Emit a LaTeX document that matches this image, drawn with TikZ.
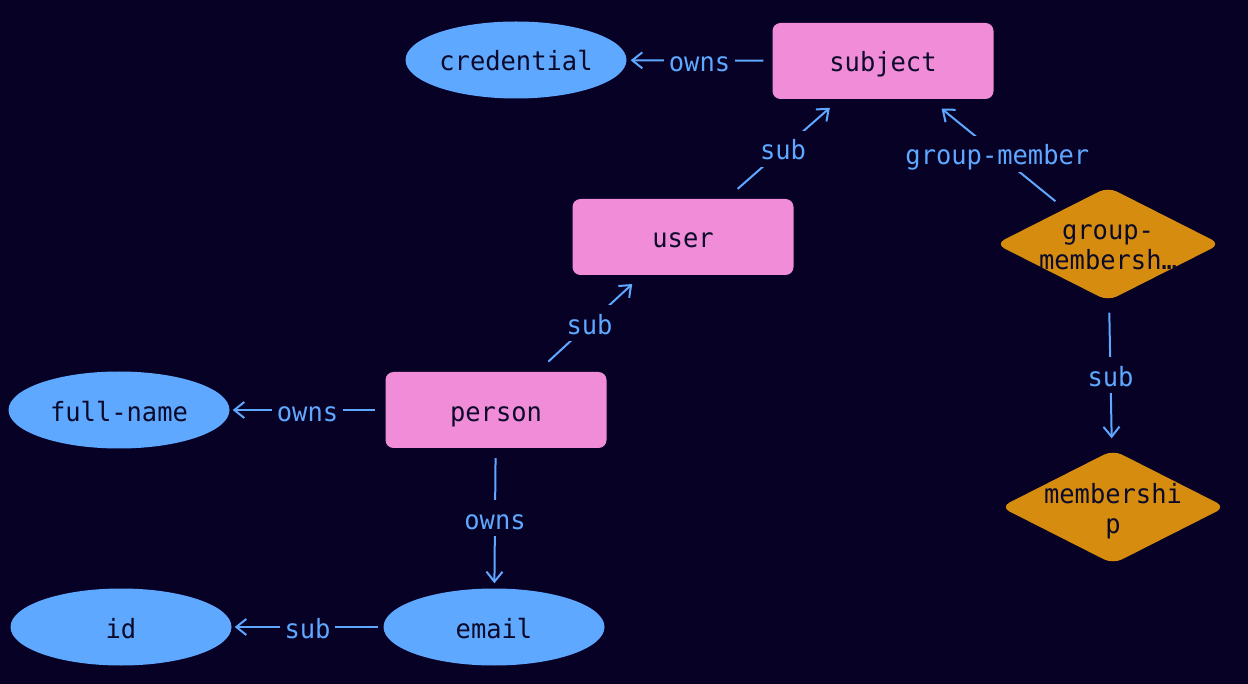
\documentclass[tikz,border=0pt]{standalone}
\usepackage{fontspec}
\usetikzlibrary{shapes.geometric,arrows.meta}
\newfontfamily\monof[FakeStretch=0.96]{DejaVu Sans Mono}
\definecolor{bg}{HTML}{080126}
\definecolor{bluec}{HTML}{5EA8FF}
\definecolor{pinkc}{HTML}{F08CD8}
\definecolor{orangec}{HTML}{D68C0F}
\definecolor{txt}{HTML}{0C0A2A}
\tikzset{
  basefont/.style={font=\monof\fontsize{26.5}{30}\selectfont},
  fixtext/.style={text height=25pt, text depth=3pt},
  ent/.style={rectangle, rounded corners=8pt, fill=pinkc, minimum width=221pt, minimum height=76pt, inner sep=0pt, text=txt, basefont, fixtext},
  attr/.style={ellipse, fill=bluec, minimum width=221pt, minimum height=77pt, inner sep=0pt, text=txt, basefont, fixtext},
  rel/.style={diamond, fill=orangec, minimum width=225pt, minimum height=114pt, inner sep=0pt, rounded corners=10pt},
  reltext/.style={align=center, text=txt, basefont, inner sep=0pt},
  lbl/.style={fill=bg, text=bluec, inner xsep=5pt, inner ysep=4pt, basefont, fixtext},
  conn/.style={draw=bluec, line width=2pt, -{Straight Barb[length=10pt,width=16pt]}}
}
\begin{document}
\begin{tikzpicture}[x=1pt,y=-1pt]
\fill[bg] (0,0) rectangle (1248,684);
\useasboundingbox (0,0) rectangle (1248,684);

\node[attr] (credential) at (516,60) {credential};
\node[ent] (subject) at (883,61) {subject};
\node[ent] (user) at (683,237) {user};
\node[ent] (person) at (496,410) {person};
\node[attr] (fullname) at (119,410) {full-name};
\node[attr] (email) at (494,627) {email};
\node[attr] (id) at (121,627) {id};
\node[rel] (groupm) at (1108,244) {};
\node[reltext] (groupmtext) at (1108,247.5) {group-\\membersh…};
\node[rel] (membership) at (1113,507) {};
\node[reltext] (membershiptext) at (1113,511) {membershi\\p};

\draw[conn, shorten <=9pt, shorten >=4pt] (subject) -- node[lbl]{owns} (credential);
\draw[conn, shorten <=15pt, shorten >=13pt] (user) -- node[lbl]{sub} (subject);
\draw[conn, shorten <=12pt, shorten >=15pt] (groupm) -- node[lbl]{group-member} (subject);
\draw[conn, shorten <=15pt, shorten >=13pt] (person) -- node[lbl]{sub} (user);
\draw[conn, shorten <=10pt, shorten >=3pt] (person) -- node[lbl]{owns} (fullname);
\draw[conn, shorten <=10pt, shorten >=5pt] (person) -- node[lbl]{owns} (email);
\draw[conn, shorten <=5pt, shorten >=3pt] (email) -- node[lbl]{sub} (id);
\draw[conn, shorten <=12pt, shorten >=12pt] (groupm) -- node[lbl]{sub} (membership);
\end{tikzpicture}
\end{document}
